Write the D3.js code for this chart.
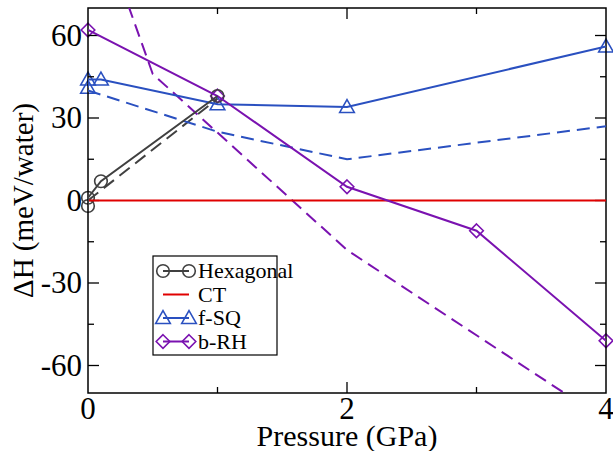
<!DOCTYPE html>
<html>
<head>
  <meta charset="utf-8">
  <title>Delta H vs pressure</title>
  <script src="https://d3js.org/d3.v7.min.js"></script>
  <style>
  body { margin: 0; background: #fff; }
  svg text { font-family: "Liberation Serif", "DejaVu Serif", serif; }
  </style>
</head>
<body>
<svg id="chart" width="613" height="451"></svg>
<script>

// data (pressure in GPa, dH in meV/water)
var hexP = [0, 0, 0.1, 1];
var hexH = [-2, 1, 7, 38];
var hexDashP = [0, 1];
var hexDashH = [0, 37];

var ctP = [0, 4];
var ctH = [0, 0];

var sqP = [0, 0, 0.1, 1, 2, 4];
var sqH = [41, 44, 44, 35, 34, 56];
var sqDashP = [0, 1, 2, 4];
var sqDashH = [40, 25, 15, 27];

var rhP = [0, 1, 2, 3, 4];
var rhH = [62, 38, 5, -11, -51];
var rhDashP = [0, 0.5, 2, 3, 4];
var rhDashH = [112, 46, -18, -49, -80];

var xTicks = [0, 2, 4];
var yTicks = [-60, -30, 0, 30, 60];
var legendNames = ["Hexagonal", "CT", "f-SQ", "b-RH"];

var colors = {
  hex: "#404040",
  ct: "#e00000",
  sq: "#2a50c0",
  rh: "#7a12b0"
};

var margin = {top: 8, right: 7, bottom: 58, left: 88},
    width = 613 - margin.left - margin.right,
    height = 451 - margin.top - margin.bottom;

var svg = d3.select("#chart");

var x = d3.scaleLinear().domain([0, 4]).range([0, width]);
var y = d3.scaleLinear().domain([-70, 70]).range([height, 0]);

var g = svg.append("g")
    .attr("transform", "translate(" + margin.left + "," + margin.top + ")");

svg.append("clipPath").attr("id", "clip")
  .append("rect")
    .attr("x", margin.left).attr("y", margin.top)
    .attr("width", width).attr("height", height);

function zipPts(px, py) {
  return px.map(function(p, i) { return [p, py[i]]; });
}

var line = d3.line()
    .x(function(d) { return x(d[0]); })
    .y(function(d) { return y(d[1]); });

var plot = svg.append("g")
    .attr("clip-path", "url(#clip)")
  .append("g")
    .attr("transform", "translate(" + margin.left + "," + margin.top + ")");

function drawLine(px, py, color, dashed) {
  plot.append("path")
      .datum(zipPts(px, py))
      .attr("d", line)
      .attr("fill", "none")
      .attr("stroke", color)
      .attr("stroke-width", 2)
      .attr("stroke-dasharray", dashed ? "13,7" : null);
}

// marker shapes
function circleMark(sel, cx, cy, color) {
  sel.append("circle").attr("cx", cx).attr("cy", cy).attr("r", 6.3)
      .attr("fill", "none").attr("stroke", color).attr("stroke-width", 1.6);
}
function triMark(sel, cx, cy, color) {
  var s = 7.3;
  sel.append("path")
      .attr("d", "M" + cx + "," + (cy - s) + "L" + (cx + s) + "," + (cy + s * 0.75) + "L" + (cx - s) + "," + (cy + s * 0.75) + "Z")
      .attr("fill", "none").attr("stroke", color).attr("stroke-width", 1.6);
}
function diaMark(sel, cx, cy, color) {
  var s = 6.8;
  sel.append("path")
      .attr("d", "M" + cx + "," + (cy - s) + "L" + (cx + s) + "," + cy + "L" + cx + "," + (cy + s) + "L" + (cx - s) + "," + cy + "Z")
      .attr("fill", "none").attr("stroke", color).attr("stroke-width", 1.6);
}

drawLine(hexDashP, hexDashH, colors.hex, true);
drawLine(sqDashP, sqDashH, colors.sq, true);
drawLine(rhDashP, rhDashH, colors.rh, true);

drawLine(ctP, ctH, colors.ct, false);
drawLine(sqP, sqH, colors.sq, false);
drawLine(rhP, rhH, colors.rh, false);
drawLine(hexP, hexH, colors.hex, false);

var marks = g.append("g");
sqP.forEach(function(p, i) { triMark(marks, x(p), y(sqH[i]), colors.sq); });
rhP.forEach(function(p, i) { diaMark(marks, x(p), y(rhH[i]), colors.rh); });
hexP.forEach(function(p, i) { circleMark(marks, x(p), y(hexH[i]), colors.hex); });

// frame and ticks (inward, on all four sides)
g.append("rect")
    .attr("width", width).attr("height", height)
    .attr("fill", "none").attr("stroke", "#000").attr("stroke-width", 1.5);

var xAll = d3.range(0, 4.01, 1);
var yAll = d3.range(-60, 61, 15);
var tk = g.append("g").attr("stroke", "#000").attr("stroke-width", 1.3);

xAll.forEach(function(v) {
  var len = xTicks.indexOf(v) >= 0 ? 11 : 6;
  if (v == 0 || v == 4) return;
  tk.append("line").attr("x1", x(v)).attr("x2", x(v)).attr("y1", height).attr("y2", height - len);
  tk.append("line").attr("x1", x(v)).attr("x2", x(v)).attr("y1", 0).attr("y2", len);
});
yAll.forEach(function(v) {
  var len = yTicks.indexOf(v) >= 0 ? 11 : 6;
  tk.append("line").attr("x1", 0).attr("x2", len).attr("y1", y(v)).attr("y2", y(v));
  tk.append("line").attr("x1", width).attr("x2", width - len).attr("y1", y(v)).attr("y2", y(v));
});

g.selectAll(".xlab")
  .data(xTicks)
  .enter().append("text")
    .attr("class", "xlab")
    .style("font-size", "31px")
    .attr("x", function(d) { return x(d); })
    .attr("y", height + 26)
    .attr("text-anchor", "middle")
    .text(function(d) { return d; });

g.selectAll(".ylab")
  .data(yTicks)
  .enter().append("text")
    .attr("class", "ylab")
    .style("font-size", "31px")
    .attr("x", -6)
    .attr("y", function(d) { return y(d) + 10; })
    .attr("text-anchor", "end")
    .text(function(d) { return d; });

g.append("text")
    .style("font-size", "30px")
    .attr("x", width / 2)
    .attr("y", height + 53)
    .attr("text-anchor", "middle")
    .text("Pressure (GPa)");

g.append("text")
    .style("font-size", "29px")
    .attr("transform", "translate(" + (-55) + "," + (y(0)) + ") rotate(-90)")
    .attr("text-anchor", "middle")
    .text("\u0394H (meV/water)");

// legend
var leg = svg.append("g").attr("transform", "translate(153,256)");
leg.append("rect")
    .attr("width", 124).attr("height", 99)
    .attr("fill", "#fff").attr("stroke", "#000").attr("stroke-width", 1.2);

var legColors = [colors.hex, colors.ct, colors.sq, colors.rh];
var legMark = [circleMark, null, triMark, diaMark];
legendNames.forEach(function(name, i) {
  var ly = 15 + i * 23.5;
  leg.append("line")
      .attr("x1", 10).attr("x2", 36).attr("y1", ly).attr("y2", ly)
      .attr("stroke", legColors[i]).attr("stroke-width", 2);
  if (legMark[i]) {
    legMark[i](leg, 10, ly, legColors[i]);
    legMark[i](leg, 36, ly, legColors[i]);
  }
  leg.append("text")
      .style("font-size", "22px")
      .attr("x", 45)
      .attr("y", ly + 7)
      .text(name);
});

</script>
</body>
</html>
